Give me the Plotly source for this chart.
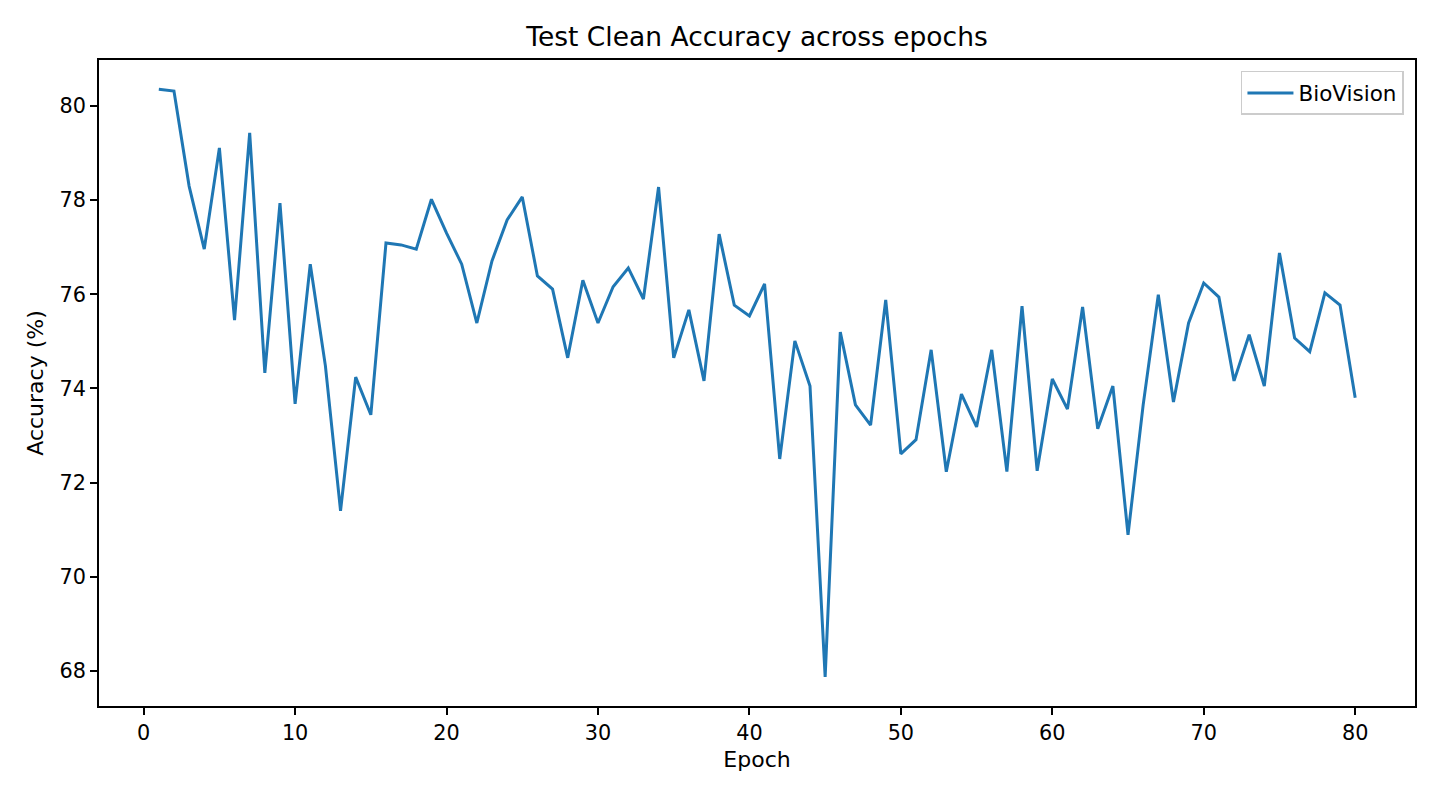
import plotly.graph_objects as go

epochs = list(range(1, 81))
accuracy = [
    80.36, 80.32, 78.30, 76.96, 79.11, 75.45, 79.43, 74.33, 77.94, 73.67,
    76.64, 74.48, 71.40, 74.24, 73.44, 77.09, 77.05, 76.96, 78.02, 77.30,
    76.64, 75.39, 76.71, 77.58, 78.07, 76.39, 76.11, 74.65, 76.30, 75.39,
    76.16, 76.56, 75.90, 78.28, 74.65, 75.67, 74.16, 77.28, 75.77, 75.54,
    76.22, 72.50, 75.01, 74.05, 67.87, 75.20, 73.65, 73.22, 75.88, 72.61,
    72.91, 74.82, 72.23, 73.88, 73.18, 74.82, 72.23, 75.75, 72.25, 74.20,
    73.56, 75.73, 73.14, 74.05, 70.89, 73.65, 75.99, 73.71, 75.39, 76.24,
    75.94, 74.16, 75.14, 74.05, 76.88, 75.07, 74.78, 76.03, 75.77, 73.80,
]
x_ticks = [0, 10, 20, 30, 40, 50, 60, 70, 80]
y_ticks = [68, 70, 72, 74, 76, 78, 80]

fig = go.Figure()
fig.add_trace(go.Scatter(
    x=epochs, y=accuracy, mode="lines", name="BioVision",
    line=dict(color="#1f77b4", width=3),
))

font = "DejaVu Sans, sans-serif"
fig.update_layout(
    width=1440, height=800,
    margin=dict(l=91, r=33, t=52, b=102),
    paper_bgcolor="white", plot_bgcolor="white",
    font=dict(family=font, size=20.8, color="black"),
    title=dict(text="Test Clean Accuracy across epochs", x=0.5, xanchor="center",
               xref="paper",
               y=1 - 29 / 800, yanchor="middle", font=dict(size=26.5)),
    showlegend=True,
    legend=dict(x=0.9916, xanchor="right", y=0.983, yanchor="top",
                bordercolor="#cccccc", borderwidth=1.5, bgcolor="white",
                itemwidth=46,
                font=dict(size=21.5)),
    xaxis=dict(
        range=[-2.95, 83.95], tickvals=x_ticks, showgrid=False, zeroline=False,
        showline=True, linecolor="black", linewidth=1.5, mirror=True,
        ticks="outside", ticklen=7, tickwidth=1.5, tickcolor="black",
        title=dict(text="Epoch", standoff=8, font=dict(size=22)),
    ),
    yaxis=dict(
        range=[67.25, 80.98], tickvals=y_ticks, showgrid=False, zeroline=False,
        showline=True, linecolor="black", linewidth=1.5, mirror=True,
        ticks="outside", ticklen=7, tickwidth=1.5, tickcolor="black",
        title=dict(text="Accuracy (%)", standoff=10, font=dict(size=22)),
    ),
)

fig.write_html("out.html")
